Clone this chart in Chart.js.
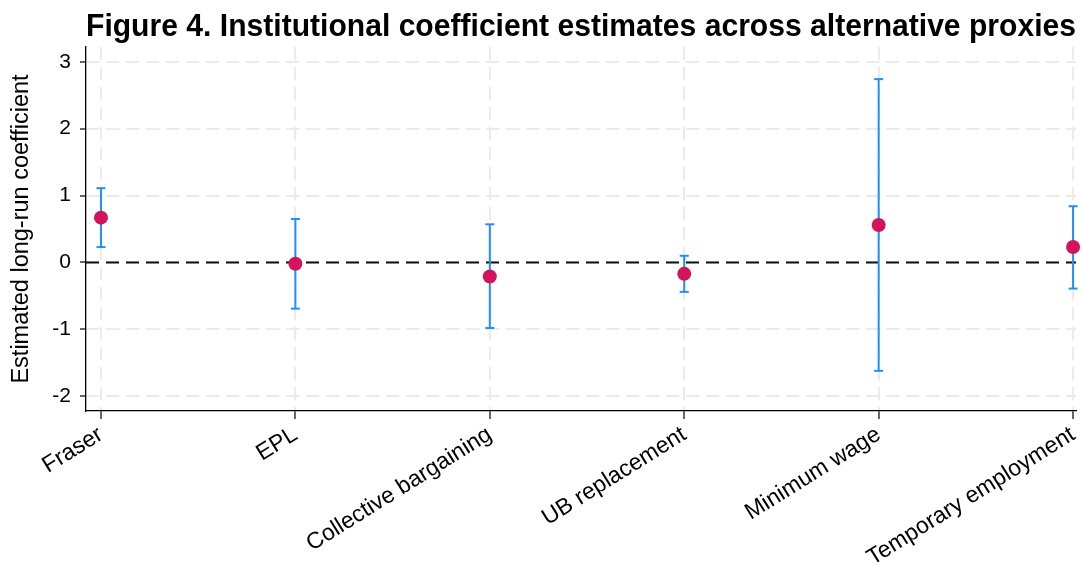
<!DOCTYPE html>
<html>
<head>
<meta charset="utf-8">
<title>Institutional coefficient estimates</title>
<script src="https://cdn.jsdelivr.net/npm/chart.js@4.4.1/dist/chart.umd.min.js"></script>
<style>
  html, body { margin: 0; padding: 0; background: #ffffff; }
  #wrap { width: 1083px; height: 567px; }
</style>
</head>
<body>
<div id="wrap"><canvas id="chart" width="1083" height="567"></canvas></div>
<script>
// Institutional proxies and their long-run coefficient estimates with confidence bounds
const categories = ['Fraser', 'EPL', 'Collective bargaining', 'UB replacement', 'Minimum wage', 'Temporary employment'];
const estimates  = [0.67, -0.02, -0.21, -0.17, 0.56, 0.23];
const lowerBound = [0.23, -0.69, -0.98, -0.44, -1.62, -0.39];
const upperBound = [1.11, 0.65, 0.57, 0.10, 2.74, 0.84];
const yTickValues = [-2, -1, 0, 1, 2, 3];

const X_MIN = -0.077, X_MAX = 5.015;
const Y_MIN = -2.22, Y_MAX = 3.22;

// Point estimates
const pointData = estimates.map((v, i) => ({ x: i, y: v }));

// Each interval is a two-point segment; a null point breaks the line between intervals
const intervalData = [];
categories.forEach((c, i) => {
  intervalData.push({ x: i, y: lowerBound[i] });
  intervalData.push({ x: i, y: upperBound[i] });
  intervalData.push({ x: i, y: null });
});

// Horizontal reference line at zero
const zeroLine = [{ x: X_MIN, y: 0 }, { x: X_MAX, y: 0 }];

const FONT = "'Liberation Sans', Arial, sans-serif";
const GRID_COLOR = '#ebebeb';

new Chart(document.getElementById('chart'), {
  type: 'scatter',
  data: {
    datasets: [
      {
        label: 'zero',
        data: zeroLine,
        showLine: true,
        borderColor: '#111111',
        borderWidth: 2,
        borderDash: [13, 7],
        pointRadius: 0,
        order: 3
      },
      {
        label: 'interval',
        data: intervalData,
        showLine: true,
        spanGaps: false,
        borderColor: '#1f8fff',
        borderWidth: 2,
        pointStyle: 'line',
        pointRadius: 4.5,
        pointBorderWidth: 2,
        pointBorderColor: '#1f8fff',
        clip: false,
        order: 2
      },
      {
        label: 'estimate',
        data: pointData,
        backgroundColor: '#d4145a',
        borderColor: '#d4145a',
        pointRadius: 7,
        pointBorderWidth: 0,
        clip: false,
        order: 1
      }
    ]
  },
  options: {
    responsive: false,
    animation: false,
    layout: { padding: { left: 0, right: 7, top: 0, bottom: 0 } },
    plugins: {
      legend: { display: false },
      tooltip: { enabled: false },
      title: {
        display: true,
        fullSize: false,
        text: 'Figure 4. Institutional coefficient estimates across alternative proxies',
        color: '#000000',
        font: { family: FONT, size: 30.5, weight: 'bold', lineHeight: 1.2 },
        padding: { top: 9.5, bottom: 0.9 }
      }
    },
    scales: {
      x: {
        type: 'linear',
        min: X_MIN,
        max: X_MAX,
        afterBuildTicks: (scale) => { scale.ticks = categories.map((c, i) => ({ value: i })); },
        afterFit: (scale) => {
          scale.height = 156;
          // rotated labels hang left of their ticks, so no extra side room is needed
          scale.paddingLeft = 0;
          scale.paddingRight = 0;
        },
        ticks: {
          autoSkip: false,
          minRotation: 32,
          maxRotation: 32,
          padding: 2,
          color: '#000000',
          font: { family: FONT, size: 23 },
          callback: (v) => categories[v]
        },
        grid: {
          color: GRID_COLOR,
          lineWidth: 2,
          tickColor: '#000000',
          tickLength: 8,
          tickWidth: 1.2
        },
        border: { display: true, color: '#000000', width: 1.3, dash: [13, 7] }
      },
      y: {
        min: Y_MIN,
        max: Y_MAX,
        afterBuildTicks: (scale) => { scale.ticks = yTickValues.map(v => ({ value: v })); },
        afterFit: (scale) => { scale.width = 86; },
        ticks: {
          padding: 9,
          color: '#000000',
          font: { family: FONT, size: 21 }
        },
        grid: {
          color: GRID_COLOR,
          lineWidth: 2,
          tickColor: '#000000',
          tickLength: 6,
          tickWidth: 1.2
        },
        border: { display: true, color: '#000000', width: 1.3, dash: [13, 7] },
        title: {
          display: true,
          text: 'Estimated long-run coefficient',
          color: '#000000',
          font: { family: FONT, size: 23.5, lineHeight: 1.2 },
          padding: { top: 7, bottom: 0 }
        }
      }
    }
  }
});
</script>
</body>
</html>
